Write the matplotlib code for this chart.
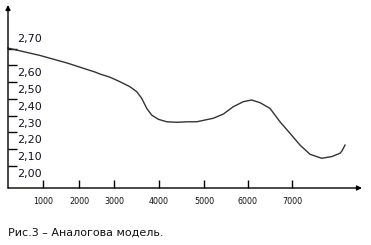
import numpy as np
import matplotlib
matplotlib.use("Agg")
import matplotlib.pyplot as plt

# ---- data ----
x_ticks = [1000, 2000, 3000, 4000, 5000, 6000, 7000]
x_tick_labels = ["1000", "2000", "3000", "4000", "5000", "6000", "7000"]
y_ticks = [2.00, 2.10, 2.20, 2.30, 2.40, 2.50, 2.60, 2.70]
y_tick_labels = ["2,00", "2,10", "2,20", "2,30", "2,40", "2,50", "2,60", "2,70"]

curve_x = [0, 914, 1667, 2457, 2600, 2886, 3133, 3356, 3504, 3616, 3727,
           3838, 3984, 4171, 4393, 4651, 4838, 5211, 5439, 5666, 5893,
           6084, 6273, 6500, 6727, 6955, 7182, 7409, 7675, 7902, 8091,
           8136, 8205]
curve_y = [2.704, 2.660, 2.615, 2.561, 2.549, 2.530, 2.503, 2.473, 2.444,
           2.404, 2.344, 2.304, 2.279, 2.264, 2.261, 2.264, 2.264, 2.285,
           2.310, 2.354, 2.384, 2.394, 2.378, 2.344, 2.264, 2.195, 2.125,
           2.070, 2.046, 2.056, 2.076, 2.090, 2.125]

caption = "Рис.3 – Аналогова модель."

# hand-drawn axis: uneven spacing of x ticks (piecewise scale)
XK = [-2000, 0, 1000, 2000, 3000, 4000, 5000, 6000, 7000, 10000]
PK = [-62, 8, 43, 79, 114, 159, 204, 248, 292, 424]

def fwd(x):
    return np.interp(x, XK, PK)

def inv(p):
    return np.interp(p, PK, XK)

W, H = 371, 245
fig = plt.figure(figsize=(W / 100, H / 100), dpi=100)
ax = fig.add_axes([0, 0, 1, 1])
ax.set_xscale("function", functions=(fwd, inv))
ax.set_xlim(float(inv(0)), float(inv(W)))
y0_pix = 166.0
def ypix_to_val(p):
    return 2.0 + (y0_pix - p) / 167.5
ax.set_ylim(ypix_to_val(H), ypix_to_val(0))
ax.axis("off")

axis_y = ypix_to_val(188)
top_y = ypix_to_val(5)
right_x = float(inv(362))

# axes with arrows
ax.annotate("", xy=(0, top_y), xytext=(0, axis_y),
            arrowprops=dict(arrowstyle="-|>", color="black", lw=1.0,
                            mutation_scale=7, shrinkA=0, shrinkB=0))
ax.annotate("", xy=(right_x, axis_y), xytext=(0, axis_y),
            arrowprops=dict(arrowstyle="-|>", color="black", lw=1.0,
                            mutation_scale=7, shrinkA=0, shrinkB=0))

# x ticks (pointing upward) and labels
tick_top = ypix_to_val(180)
for v, lab in zip(x_ticks, x_tick_labels):
    ax.plot([v, v], [axis_y, tick_top], color="black", lw=1.0,
            solid_capstyle="butt")
    ax.annotate(lab, xy=(v, axis_y), xytext=(0, -14),
                textcoords="offset pixels", ha="center", va="center",
                fontsize=5.8, color="#111111")

# y ticks (pointing right) and labels
tick_right = float(inv(17))
for v, lab in zip(y_ticks, y_tick_labels):
    ax.plot([0, tick_right], [v, v], color="black", lw=1.0,
            solid_capstyle="butt")
    dy = 10 if lab == "2,70" else -8
    ax.annotate(lab, xy=(0, v), xytext=(9, dy),
                textcoords="offset pixels", ha="left", va="center",
                fontsize=8, color="#111122")

# curve
ax.plot(curve_x, curve_y, color="#333333", lw=1.0)

fig.text(8 / W, 1 - 233 / H, caption, ha="left", va="center",
         fontsize=8, color="#111111")

fig.savefig("out.png", dpi=100)
